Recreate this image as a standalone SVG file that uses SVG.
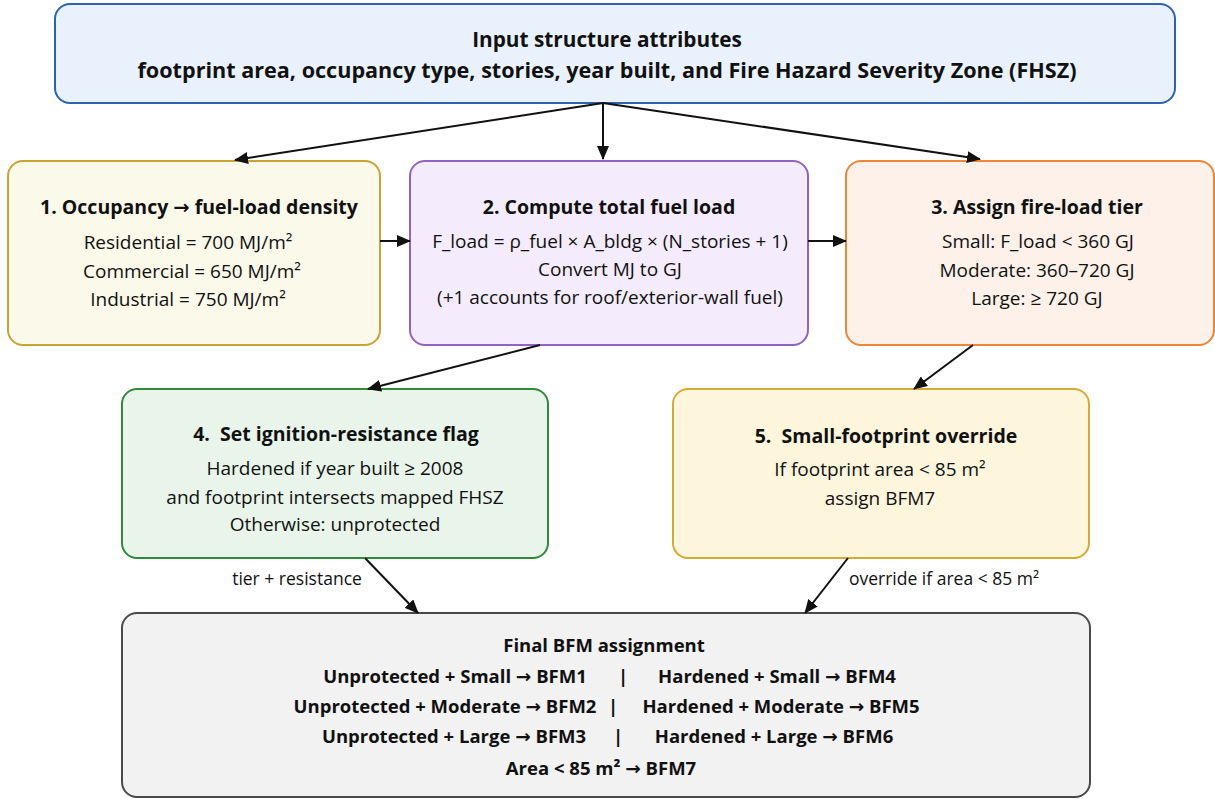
<svg xmlns="http://www.w3.org/2000/svg" width="1215" height="799" viewBox="0 0 1215 799">
<defs>
<marker id="ah" markerWidth="14" markerHeight="12" refX="13" refY="6" orient="auto" markerUnits="userSpaceOnUse">
<path d="M0,0 L14,6 L0,12 z" fill="#111"/>
</marker>
</defs>
<style>
text{font-family:"Open Sans","Noto Sans","DejaVu Sans",sans-serif;fill:#111;text-anchor:middle}
.h{font-weight:bold;font-size:20.8px}
.h2{font-weight:bold;font-size:21.6px}
.t{font-weight:bold;font-size:19.5px}
.b{font-size:19px}
.f{font-weight:bold;font-size:18.5px}
.l{font-size:17.5px}
.box{stroke-width:2}
.c{stroke:#111;stroke-width:2;fill:none;marker-end:url(#ah)}
</style>
<rect width="1215" height="799" fill="#ffffff"/>
<g id="n0">
<rect class="box" x="55" y="4" width="1120" height="99" rx="15" fill="#e9f1fd" stroke="#2d62b0"/>
<text class="h" x="607" y="47">Input structure attributes</text>
<text class="h2" x="607" y="78">footprint area, occupancy type, stories, year built, and Fire Hazard Severity Zone (FHSZ)</text>
</g>
<g id="n1">
<rect class="box" x="8" y="161" width="372" height="184" rx="15" fill="#fbf9ea" stroke="#c9a431"/>
<text class="t" x="199" y="214">1. Occupancy → fuel-load density</text>
<text class="b" x="188" y="249">Residential = 700 MJ/m²</text>
<text class="b" x="192" y="278">Commercial = 650 MJ/m²</text>
<text class="b" x="188" y="306">Industrial = 750 MJ/m²</text>
</g>
<g id="n2">
<rect class="box" x="410" y="161" width="398" height="184" rx="15" fill="#f4ecfd" stroke="#9461c9"/>
<text class="t" x="609" y="214">2. Compute total fuel load</text>
<text class="b" x="610" y="248">F_load = ρ_fuel × A_bldg × (N_stories + 1)</text>
<text class="b" x="610" y="276">Convert MJ to GJ</text>
<text class="b" x="610" y="304">(+1 accounts for roof/exterior-wall fuel)</text>
</g>
<g id="n3">
<rect class="box" x="846" y="161" width="368" height="184" rx="15" fill="#fdf1ea" stroke="#ef8536"/>
<text class="t" x="1037" y="214">3. Assign fire-load tier</text>
<text class="b" x="1038" y="248">Small: F_load &lt; 360 GJ</text>
<text class="b" x="1037" y="277">Moderate: 360–720 GJ</text>
<text class="b" x="1037" y="305">Large: ≥ 720 GJ</text>
</g>
<g id="n4">
<rect class="box" x="122" y="389" width="426" height="169" rx="15" fill="#e9f5ea" stroke="#2f8a3a"/>
<text class="t" x="336" y="441">4.&#160; Set ignition-resistance flag</text>
<text class="b" x="335" y="475">Hardened if year built ≥ 2008</text>
<text class="b" x="335" y="504">and footprint intersects mapped FHSZ</text>
<text class="b" x="335" y="531">Otherwise: unprotected</text>
</g>
<g id="n5">
<rect class="box" x="673" y="389" width="416" height="169" rx="15" fill="#fdf5dc" stroke="#d6aa34"/>
<text class="t" x="886" y="443">5.&#160; Small-footprint override</text>
<text class="b" x="880" y="476">If footprint area &lt; 85 m²</text>
<text class="b" x="880" y="505">assign BFM7</text>
</g>
<g id="n6">
<rect class="box" x="122" y="613" width="968" height="184" rx="15" fill="#f2f2f2" stroke="#4a4a4a"/>
<text class="f" x="604" y="652">Final BFM assignment</text>
<text class="f" x="455" y="683">Unprotected + Small → BFM1</text>
<text class="f" x="623" y="683">|</text>
<text class="f" x="777" y="683">Hardened + Small → BFM4</text>
<text class="f" x="445" y="713">Unprotected + Moderate → BFM2</text>
<text class="f" x="613" y="713">|</text>
<text class="f" x="781" y="713">Hardened + Moderate → BFM5</text>
<text class="f" x="454" y="743">Unprotected + Large → BFM3</text>
<text class="f" x="618" y="743">|</text>
<text class="f" x="774" y="743">Hardened + Large → BFM6</text>
<text class="f" x="601" y="775">Area &lt; 85 m² → BFM7</text>
</g>
<g id="connectors">
<line class="c" x1="603" y1="103" x2="235" y2="160"/>
<line class="c" x1="603" y1="103" x2="603" y2="159"/>
<line class="c" x1="603" y1="103" x2="980" y2="159"/>
<line class="c" x1="380" y1="241" x2="410" y2="241"/>
<line class="c" x1="808" y1="241" x2="846" y2="241"/>
<line class="c" x1="540" y1="345" x2="368" y2="389"/>
<line class="c" x1="973" y1="345" x2="914" y2="389"/>
<line class="c" x1="365" y1="558" x2="418" y2="613"/>
<line class="c" x1="848" y1="558" x2="805" y2="613"/>
<text class="l" x="297" y="585">tier + resistance</text>
<text class="l" x="944" y="585">override if area &lt; 85 m²</text>
</g>
</svg>
